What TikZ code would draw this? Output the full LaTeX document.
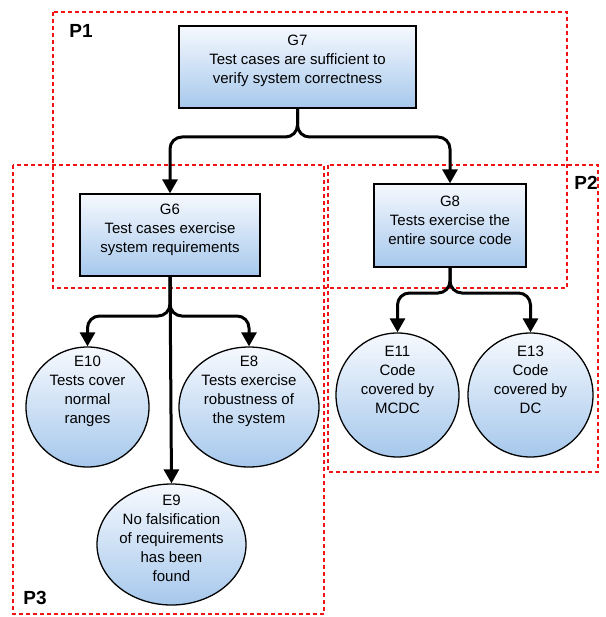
\documentclass[tikz,border=0pt]{standalone}
\usepackage{fontspec}
\setmainfont{Liberation Sans}
\usetikzlibrary{arrows.meta,shapes.geometric}

\definecolor{shadetop}{RGB}{246,249,254}
\definecolor{shademid}{RGB}{218,232,248}
\definecolor{shadebot}{RGB}{166,200,236}
\definecolor{partred}{RGB}{240,20,20}

\tikzset{
  goalbox/.style={draw=black, line width=1.3pt, rectangle, inner sep=0pt,
    top color=shadetop, middle color=shademid, bottom color=shadebot},
  evidence/.style={draw=black, line width=1.3pt, ellipse, inner sep=0pt,
    top color=shadetop, middle color=shademid, bottom color=shadebot},
  txt/.style={align=center, inner sep=0pt, font=\fontsize{15}{19}\selectfont},
  conn/.style={line width=3pt, rounded corners=12pt,
    -{Triangle[width=15pt,length=14pt]}},
  partbox/.style={draw=partred, line width=1.2pt, dash pattern=on 4pt off 3pt},
  partlabel/.style={inner sep=0pt, font=\fontsize{19}{22}\selectfont\bfseries},
}

\begin{document}
\begin{tikzpicture}[x=1pt, y=-1pt]
  \useasboundingbox (0,0) rectangle (605,617);

  % partition regions
  \draw[partbox] (53,12) rectangle (567,288);
  \draw[partbox] (13,165) rectangle (324,614);
  \draw[partbox] (328,165) rectangle (598,472);
  \node[partlabel] (P1) at (81,31) {P1};
  \node[partlabel] (P2) at (586,183) {P2};
  \node[partlabel] (P3) at (35,598) {P3};

  % goals
  \node[goalbox, minimum width=237pt, minimum height=82pt] (G7) at (297.5,67) {};
  \node[txt] (G7t) at (297.5,61) {G7\\Test cases are sufficient to\\verify system correctness};
  \node[goalbox, minimum width=180pt, minimum height=82pt] (G6) at (170,235) {};
  \node[txt] (G6t) at (170,229.5) {G6\\Test cases exercise\\system requirements};
  \node[goalbox, minimum width=152pt, minimum height=83pt] (G8) at (450,225.5) {};
  \node[txt] (G8t) at (450,220) {G8\\Tests exercise the\\entire source code};

  % evidence
  \node[evidence, minimum width=123pt, minimum height=120pt] (E10) at (87.5,407) {};
  \node[txt] (E10t) at (87.5,391.5) {E10\\Tests cover\\normal\\ranges};
  \node[evidence, minimum width=140pt, minimum height=120pt] (E8) at (249,407) {};
  \node[txt] (E8t) at (249,391.5) {E8\\Tests exercise\\robustness of\\the system};
  \node[evidence, minimum width=149pt, minimum height=121pt] (E9) at (171.5,544.5) {};
  \node[txt] (E9t) at (171.5,538.5) {E9\\No falsification\\of requirements\\has been\\found};
  \node[evidence, minimum width=123pt, minimum height=124pt] (E11) at (397.5,395) {};
  \node[txt] (E11t) at (397.5,379.5) {E11\\Code\\covered by\\MCDC};
  \node[evidence, minimum width=125pt, minimum height=124pt] (E13) at (530.5,395) {};
  \node[txt] (E13t) at (530.5,379.5) {E13\\Code\\covered by\\DC};

  % branch points
  \coordinate (j7) at (297.5,137);
  \coordinate (j6) at (170,316);
  \coordinate (j8) at (450,293);

  % connectors
  \draw[conn] (G7.south) -- (j7) -| (G6.north);
  \draw[conn] (G7.south) -- (j7) -| (G8.north);
  \draw[conn] (G6.south) -- (j6) -| (E10.north);
  \draw[conn] (G6.south) -- (j6) -| (E8.north);
  \draw[conn] (G6.south) -- (E9.north);
  \draw[conn] (G8.south) -- (j8) -| (E11.north);
  \draw[conn] (G8.south) -- (j8) -| (E13.north);
\end{tikzpicture}
\end{document}
